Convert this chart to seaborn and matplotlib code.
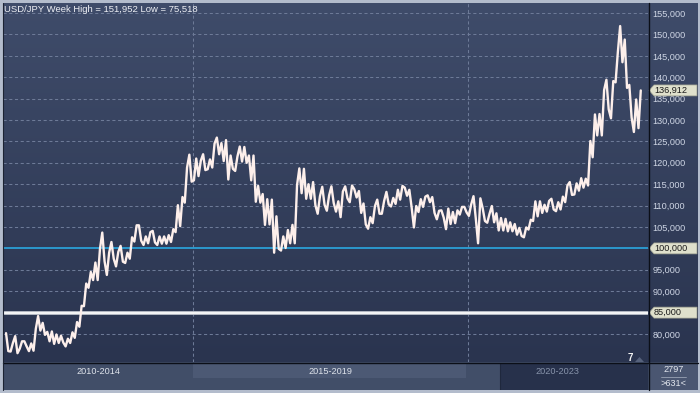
import numpy as np
import pandas as pd
import matplotlib
matplotlib.use("Agg")
import matplotlib.pyplot as plt
import seaborn as sns
from matplotlib.patches import Polygon, Rectangle
from matplotlib.lines import Line2D
import matplotlib.transforms as mtrans

# ---------------- data (monthly high / low, in JPY) ----------------
start_year, start_month = 2011, 8
highs = [
    80.2, 77.9, 79.5, 78.3, 78.3,
    77.8, 81.2, 84.2, 82.6, 80.5, 80.6, 79.9, 79.6, 78.9, 80.4, 82.8, 86.6,
    91.8, 94.5, 96.7, 99.9, 103.7, 99.0, 101.5, 99.2, 100.6, 99.0, 102.6, 105.4,
    105.4, 102.8, 103.8, 104.1, 102.8, 102.8, 103.1, 104.5, 110.1, 112.0, 118.9, 121.9,
    121.0, 120.5, 122.0, 120.8, 124.5, 125.9, 124.6, 125.3, 121.7, 121.5, 123.8, 123.7,
    121.7, 121.7, 114.6, 112.7, 111.5, 111.4, 107.5, 102.8, 104.3, 105.5, 114.8, 118.7,
    118.6, 115.0, 115.5, 112.2, 114.4, 112.4, 114.5, 111.0, 113.3, 114.5, 114.7, 113.8,
    113.4, 110.5, 107.3, 109.9, 111.4, 111.1, 113.2, 111.8, 113.7, 114.6, 114.2, 113.7,
    109.9, 111.5, 112.1, 112.4, 112.0, 108.8, 108.9, 109.3, 108.5, 108.9, 109.7, 109.7,
    110.3, 112.2, 111.7, 109.4, 108.1, 109.9, 108.2, 107.1, 106.9, 106.1, 105.7, 104.8,
    104.9, 106.7, 111.0, 111.0, 110.2, 111.1, 111.6, 110.8, 112.1, 114.7, 115.5, 115.2,
    116.4, 116.3, 125.1, 131.3, 131.4, 137.0, 139.4, 139.1, 145.9, 151.952, 148.8, 138.2,
    134.8, 136.912,
]
lows = [
    76.0, 75.9, 75.518, 76.6, 77.1,
    76.0, 76.1, 80.8, 79.8, 78.3, 77.7, 77.9, 78.0, 77.1, 77.9, 79.1, 81.7,
    86.5, 90.8, 92.6, 92.6, 97.0, 93.8, 97.6, 95.8, 96.9, 96.6, 97.6, 101.6,
    101.8, 100.8, 101.2, 101.4, 100.8, 101.1, 101.1, 101.5, 103.8, 105.2, 110.7, 115.6,
    115.9, 116.9, 118.3, 118.5, 118.9, 122.0, 120.4, 116.1, 118.6, 118.1, 120.3, 120.0,
    115.9, 110.9, 110.7, 105.5, 105.6, 99.0, 99.9, 99.5, 100.1, 101.2, 101.2, 112.9,
    111.6, 111.6, 110.1, 108.1, 110.2, 108.8, 110.6, 108.6, 107.3, 111.7, 110.8, 111.9,
    108.3, 105.6, 104.6, 105.9, 108.1, 108.1, 110.3, 109.8, 110.4, 111.4, 112.3, 109.6,
    104.9, 108.5, 109.7, 110.8, 108.3, 106.8, 107.2, 104.5, 105.7, 105.9, 107.9, 108.4,
    107.6, 107.0, 101.2, 106.4, 106.0, 106.1, 104.2, 104.2, 104.0, 104.0, 103.2, 102.9,
    102.6, 104.4, 106.4, 107.5, 108.3, 108.6, 109.1, 108.7, 109.1, 110.8, 112.5, 112.6,
    113.5, 114.2, 114.7, 121.3, 126.4, 126.4, 132.5, 130.4, 138.8, 143.5, 137.5, 130.6,
    127.2, 128.1,
]
y_ticks = [155, 150, 145, 140, 135, 130, 125, 120, 115, 110, 105, 95, 90, 80]
ref_lines = [100, 85]
last_value = 136.912
period_labels = ["2010-2014", "2015-2019", "2020-2023"]
title_text = "USD/JPY Week High = 151,952 Low = 75,518"

# ---------------- build zig-zag path from monthly ranges ----------------
n = len(highs)
rows = []
for i in range(n):
    y_idx = start_month - 1 + i
    t0 = start_year + y_idx / 12.0
    mid = (highs[i] + lows[i]) / 2
    nxt = (highs[i + 1] + lows[i + 1]) / 2 if i + 1 < n else mid + 1
    seq = [lows[i], highs[i]] if nxt >= mid else [highs[i], lows[i]]
    rows.append((t0 + 0.2 / 12, seq[0]))
    rows.append((t0 + 0.7 / 12, seq[1]))
df = pd.DataFrame(rows, columns=["t", "v"])

# ---------------- figure ----------------
sns.set_theme(style="dark")
plt.rcParams["font.family"] = ["Liberation Sans", "DejaVu Sans"]

W, H = 700, 393
fig = plt.figure(figsize=(7.0, 3.93), dpi=100, facecolor="#b3bccc")
fx = lambda px: px / W
fy = lambda py: 1 - py / H

# gradient background behind plot + right label panel
bg = fig.add_axes([fx(3), fy(362), (698 - 3) / W, (362 - 3) / H], zorder=-5)
top_c = np.array([0x3f, 0x4c, 0x6a]) / 255
bot_c = np.array([0x2a, 0x34, 0x4f]) / 255
g = np.linspace(0, 1, 256)[:, None]
img = top_c[None, :] * (1 - g[..., None]) + bot_c[None, :] * g[..., None]
img = np.repeat(img, 2, axis=1)
bg.imshow(img, aspect="auto", extent=[0, 1, 0, 1])
bg.set_axis_off()

# main axes
ax = fig.add_axes([fx(3), fy(362), (648 - 3) / W, (362 - 3) / H], zorder=1)
ax.set_facecolor("none")
ax.set_xlim(2011.545, 2023.273)
ax.set_ylim(73.46, 157.34)

# grid
for yv in range(80, 160, 5):
    if yv in ref_lines:
        continue
    ax.axhline(yv, color="#6d7a97", lw=0.75, ls=(0, (3, 2.5)), zorder=1)
for xv in [2015, 2020]:
    ax.axvline(xv, color="#6d7a97", lw=0.75, ls=(0, (3, 2.5)), zorder=1)

# reference lines
ax.axhline(ref_lines[0], color="#2b9fd6", lw=1.3, zorder=2)
ax.axhline(ref_lines[1], color="#b9bec8", lw=2.8, zorder=2)
ax.axhline(ref_lines[1], color="#ffffff", lw=1.2, zorder=2)

line_c = "#fdefeb"
sns.lineplot(data=df, x="t", y="v", sort=False, estimator=None,
             color=line_c, lw=1.7, ax=ax, zorder=3)

ax.set_xlabel("")
ax.set_ylabel("")
ax.set_xticks([])
ax.yaxis.tick_right()
ax.set_yticks(y_ticks)
ax.set_yticklabels([f"{v},000" for v in y_ticks])
ax.tick_params(axis="y", length=0, pad=3.4, labelsize=6.6, labelcolor="#cfd6e5")
for s in ax.spines.values():
    s.set_visible(False)
ax.grid(False)

# callouts on right axis
trans = mtrans.blended_transform_factory(fig.transFigure, ax.transData)
hh = 5.5 / 4.28
for val, txt in [(last_value, "136,912"), (ref_lines[0], "100,000"), (ref_lines[1], "85,000")]:
    poly = Polygon([(fx(649), val), (fx(654), val + hh), (fx(697), val + hh),
                    (fx(697), val - hh), (fx(654), val - hh)], closed=True,
                   transform=trans, facecolor="#dfe0cc", edgecolor="#9a9c8c",
                   lw=0.5, zorder=20)
    fig.add_artist(poly)
    fig.text(fx(654), val, txt, transform=trans, ha="left", va="center",
             fontsize=6.6, color="#1b1b1b", zorder=21)

# title
fig.text(fx(4), fy(9), title_text, ha="left", va="center", fontsize=6.8,
         color="#eef0f5", zorder=30)

# "7" marker
fig.text(fx(630), fy(358), "7", ha="center", va="center", fontsize=7,
         color="#f2f2f2", fontweight="bold", zorder=30)
fig.add_artist(Polygon([(fx(635), fy(362)), (fx(639.5), fy(357)), (fx(644), fy(362))],
                       closed=True, facecolor="#56627c", edgecolor="none", zorder=30))

# bottom panel
bp = fig.add_axes([fx(3), fy(390), (698 - 3) / W, (390 - 362) / H], zorder=2)
bp.set_xlim(3, 698)
bp.set_ylim(390, 362)
bp.set_axis_off()
bp.add_patch(Rectangle((3, 362), 695, 28, facecolor="#414e68", edgecolor="none"))
bp.add_patch(Rectangle((193, 363), 273, 14.5, facecolor="#4c5974", edgecolor="none"))
bp.add_patch(Rectangle((500, 363), 148, 27, facecolor="#27314b", edgecolor="none"))
bp.add_line(Line2D([500, 500], [363, 390], color="#1f283d", lw=0.8))
bp.add_patch(Rectangle((649, 363), 49, 27, facecolor="#4a5671", edgecolor="none"))
bp.text(98, 371.5, period_labels[0], ha="center", va="center", fontsize=6.6, color="#dde2ea")
bp.text(330, 371.5, period_labels[1], ha="center", va="center", fontsize=6.6, color="#dde2ea")
bp.text(557, 371.5, period_labels[2], ha="center", va="center", fontsize=6.6, color="#8793aa")
bp.text(673.5, 369.5, "2797", ha="center", va="center", fontsize=6.6, color="#e3e7ee")
bp.add_line(Line2D([661, 686], [376.5, 376.5], color="#9aa3b5", lw=0.6))
bp.text(673.5, 383.5, ">631<", ha="center", va="center", fontsize=6.6, color="#e3e7ee")

# black separators
fig.add_artist(Line2D([fx(3), fx(698)], [fy(362.5), fy(362.5)], color="#0b0f18", lw=1.0, zorder=40))
fig.add_artist(Line2D([fx(648.5), fx(648.5)], [fy(3), fy(390)], color="#0b0f18", lw=1.0, zorder=40))
fig.add_artist(Line2D([fx(2.5), fx(2.5)], [fy(3), fy(390)], color="#1c2333", lw=0.8, zorder=40))

fig.savefig("out.png", dpi=100, facecolor=fig.get_facecolor())
